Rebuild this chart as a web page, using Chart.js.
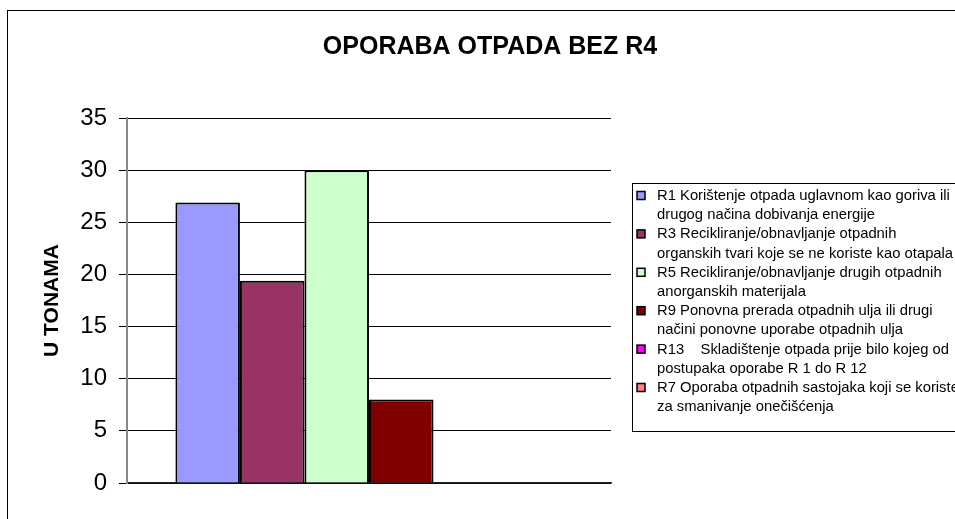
<!DOCTYPE html>
<html>
<head>
<meta charset="utf-8">
<script src="https://cdn.jsdelivr.net/npm/chart.js@4.4.1/dist/chart.umd.min.js"></script>
<style>
  html, body { margin: 0; padding: 0; background: #fff; }
  #wrap { position: relative; width: 955px; height: 519px; }
</style>
</head>
<body>
<div id="wrap"><canvas id="c" width="955" height="519"></canvas></div>
<script>
// ---- data ----
const chartTitle = "OPORABA OTPADA BEZ R4";
const yAxisTitle = "U TONAMA";
const categories = [""];
const seriesNames = [
  ["R1 Korištenje otpada uglavnom kao goriva ili", "drugog načina dobivanja energije"],
  ["R3 Recikliranje/obnavljanje otpadnih", "organskih tvari koje se ne koriste kao otapala"],
  ["R5 Recikliranje/obnavljanje drugih otpadnih", "anorganskih materijala"],
  ["R9 Ponovna prerada otpadnih ulja ili drugi", "načini ponovne uporabe otpadnih ulja"],
  ["R13    Skladištenje otpada prije bilo kojeg od", "postupaka oporabe R 1 do R 12"],
  ["R7 Oporaba otpadnih sastojaka koji se koriste", "za smanivanje onečišćenja"]
];
const seriesValues = [26.9, 19.4, 30, 8, 0, 0];
const seriesColors = ["#9999FF", "#993366", "#CCFFCC", "#800000", "#FF00FF", "#FF8080"];
const yTicks = [0, 5, 10, 15, 20, 25, 30, 35];

const FONT = "'Liberation Sans', Arial, sans-serif";

const frameTitleLegend = {
  id: 'frameTitleLegend',
  beforeDraw(chart) {
    const ctx = chart.ctx;
    ctx.save();
    ctx.fillStyle = '#fff';
    ctx.fillRect(0, 0, chart.width, chart.height);
    ctx.strokeStyle = '#000';
    ctx.lineWidth = 1;
    ctx.strokeRect(7.5, 10.5, 1000, 1000);
    ctx.restore();
  },
  afterDraw(chart) {
    const ctx = chart.ctx;
    ctx.save();
    // title
    ctx.fillStyle = '#000';
    ctx.font = "bold 25px " + FONT;
    ctx.textAlign = 'center';
    ctx.textBaseline = 'middle';
    ctx.fillText(chartTitle, 490, 47);
    // legend box
    ctx.textAlign = 'left';
    ctx.strokeStyle = '#000';
    ctx.lineWidth = 1;
    ctx.strokeRect(632.5, 183.5, 400, 248);
    ctx.font = "14.8px " + FONT;
    let line = 0;
    const y0 = 196, lh = 19.2;
    chart.data.datasets.forEach((ds, i) => {
      const lines = seriesNames[i];
      const yy = y0 + line * lh;
      ctx.fillStyle = ds.backgroundColor;
      ctx.fillRect(637, yy - 4.5, 8, 8);
      ctx.strokeStyle = '#000';
      ctx.lineWidth = 1.5;
      ctx.strokeRect(637, yy - 4.5, 8, 8);
      ctx.fillStyle = '#000';
      lines.forEach((t) => {
        ctx.fillText(t, 657, y0 + line * lh);
        line++;
      });
    });
    ctx.restore();
  }
};

const datasets = seriesNames.map((n, i) => ({
  label: n.join(' '),
  data: [seriesValues[i]],
  backgroundColor: seriesColors[i],
  borderColor: '#000',
  borderWidth: 2,
  borderSkipped: 'start',
  categoryPercentage: 0.8,
  barPercentage: 1.0
}));

new Chart(document.getElementById('c'), {
  type: 'bar',
  data: { labels: categories, datasets },
  options: {
    responsive: false,
    animation: false,
    layout: { padding: { left: 7, right: 344, top: 118, bottom: 28 } },
    plugins: {
      legend: { display: false },
      tooltip: { enabled: false },
      title: { display: false }
    },
    scales: {
      x: {
        grid: { display: false },
        border: { display: true, color: '#222', width: 1.5 },
        ticks: { display: false }
      },
      y: {
        min: 0, max: 35,
        afterBuildTicks(s) { s.ticks = yTicks.map(v => ({ value: v })); },
        afterFit(s) { s.width = 120; },
        grid: { color: '#000', lineWidth: 1, tickLength: 8, drawTicks: true },
        border: { display: true, color: '#888', width: 2 },
        ticks: {
          color: '#000',
          padding: 12,
          font: { family: FONT, size: 24 }
        },
        title: {
          display: true,
          text: yAxisTitle,
          color: '#000',
          font: { family: FONT, size: 21, weight: 'bold' },
          padding: { top: 33 }
        }
      }
    }
  },
  plugins: [frameTitleLegend]
});
</script>
</body>
</html>
